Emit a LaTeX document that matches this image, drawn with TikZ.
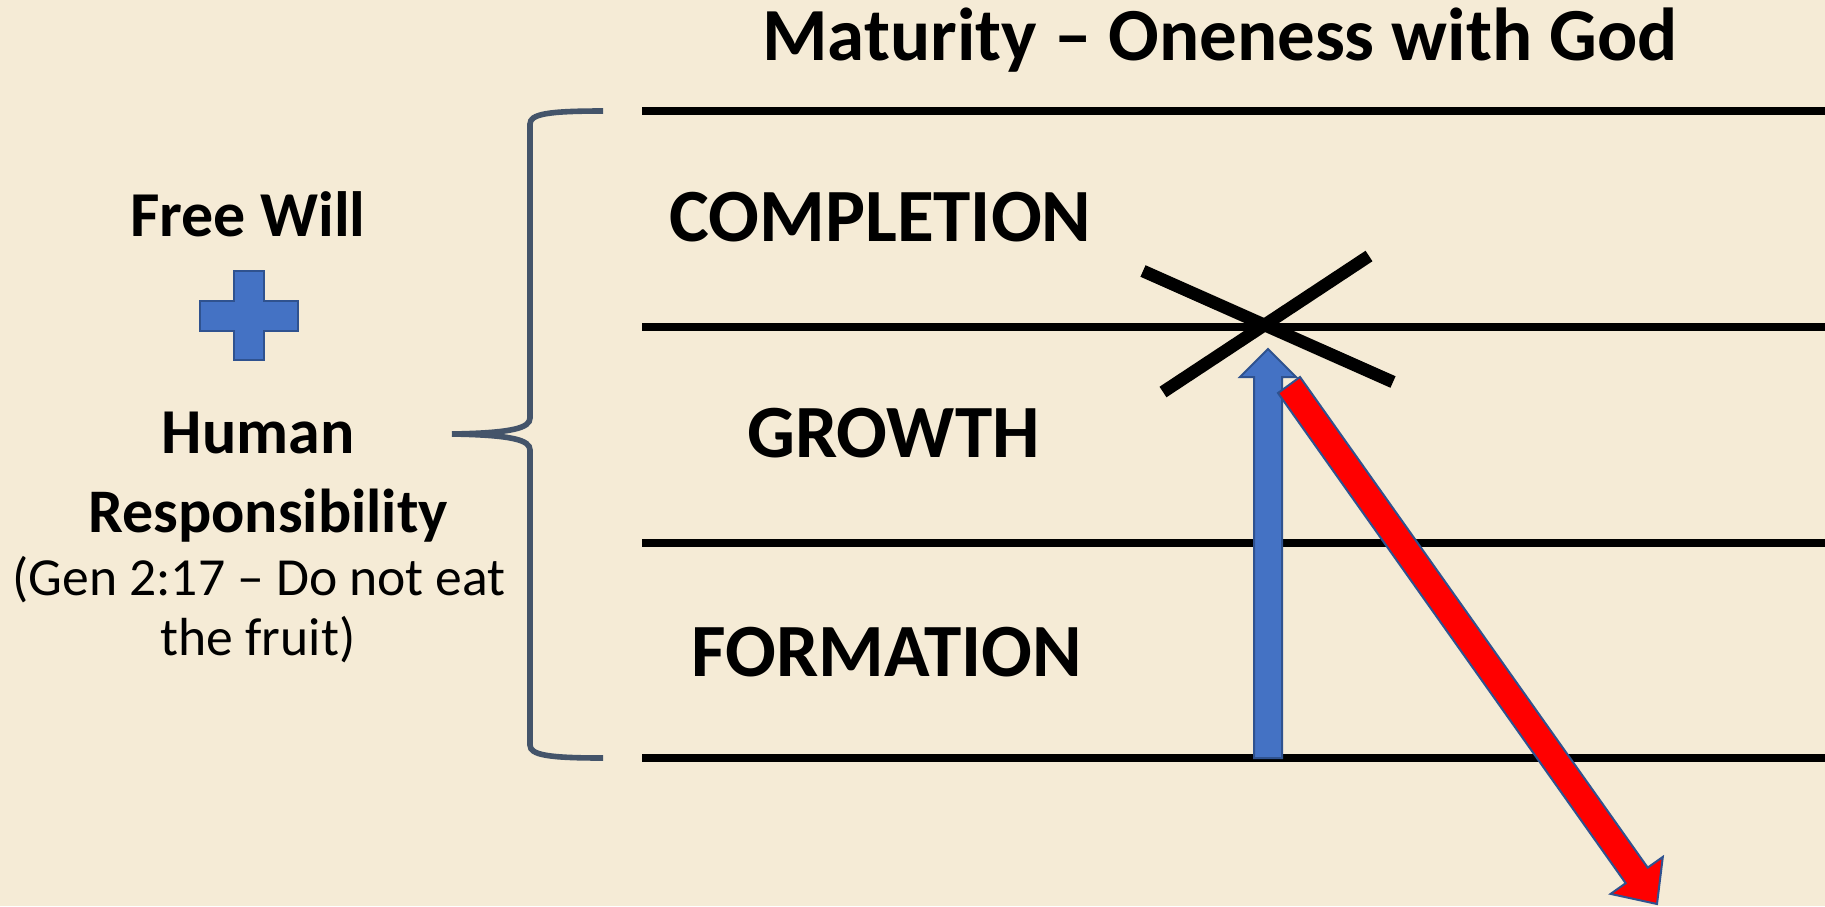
\documentclass[tikz,border=0pt]{standalone}
\usepackage{fontspec}
\setmainfont{Carlito}
\definecolor{bg}{HTML}{F5EBD6}
\definecolor{bluefill}{HTML}{4472C4}
\definecolor{blueline}{HTML}{2F528F}
\definecolor{bracecol}{HTML}{44546A}
\begin{document}
\begin{tikzpicture}[x=0.5pt,y=-0.5pt,
  title/.style={font=\fontsize{37.5}{43}\selectfont\bfseries, anchor=base, inner sep=0},
  stage/.style={font=\fontsize{37.6}{43}\selectfont\bfseries, anchor=base west, inner sep=0},
  lefttxt/.style={font=\fontsize{32}{38}\selectfont\bfseries, anchor=base, inner sep=0},
  smalltxt/.style={font=\fontsize{26.8}{32}\selectfont, anchor=base, inner sep=0},
  level/.style={line width=4pt},
  xmark/.style={line width=6.3pt},
  bracestyle/.style={draw=bracecol, line width=2.8pt}]
\fill[bg] (0,0) rectangle (1825,906);
\useasboundingbox (0,0) rectangle (1825,906);

% title
\node[title] (title) at (1220,60) {Maturity – Oneness with God};

% level lines
\coordinate (l1a) at (642,111); \coordinate (l1b) at (1825,111);
\coordinate (l2a) at (642,327); \coordinate (l2b) at (1825,327);
\coordinate (l3a) at (642,543); \coordinate (l3b) at (1825,543);
\coordinate (l4a) at (642,758); \coordinate (l4b) at (1825,758);
\draw[level] (l1a) -- (l1b);
\draw[level] (l2a) -- (l2b);
\draw[level] (l3a) -- (l3b);
\draw[level] (l4a) -- (l4b);

% stage labels
\node[stage] (completion) at (669,241) {COMPLETION};
\node[stage] (growth) at (747,457) {GROWTH};
\node[stage] (formation) at (691,676) {FORMATION};

% left texts
\node[lefttxt] (free) at (248,236) {Free Will};
\node[lefttxt] (human) at (258,453) {Human};
\node[lefttxt, font=\fontsize{31}{37}\selectfont\bfseries] (resp) at (268,532) {Responsibility};
\node[smalltxt] (gen) at (259,595) {(Gen 2:17 – Do not eat};
\node[smalltxt] (fruit) at (258,655) {the fruit)};

% plus sign
\filldraw[fill=bluefill, draw=blueline, line width=1.2pt]
  (234,271) -- (264,271) -- (264,301) -- (298,301) -- (298,331) -- (264,331)
  -- (264,360) -- (234,360) -- (234,331) -- (200,331) -- (200,301) -- (234,301) -- cycle;

% brace
\draw[bracestyle] (603,111) .. controls (548,111) and (530,114) .. (530,124)
  -- (530,418) .. controls (530,428) and (512,433) .. (452,434);
\draw[bracestyle] (452,434) .. controls (512,435) and (530,440) .. (530,450)
  -- (530,745) .. controls (530,755) and (548,758) .. (603,758);

% blue up arrow
\filldraw[fill=bluefill, draw=blueline, line width=1pt]
  (1254,758) -- (1254,377) -- (1240,377) -- (1268,349) -- (1296,377)
  -- (1282,377) -- (1282,758) -- cycle;

% black X
\draw[xmark] (1143,271) -- (1393,382);
\draw[xmark] (1163,392) -- (1369,256);

% red arrow
\filldraw[fill=red, draw=blueline, line width=1pt]
  (1300,377) -- (1647.7,867.6) -- (1662.8,856.9) -- (1657,904)
  -- (1610.6,893.9) -- (1625.7,883.2) -- (1278,393) -- cycle;
\end{tikzpicture}
\end{document}
